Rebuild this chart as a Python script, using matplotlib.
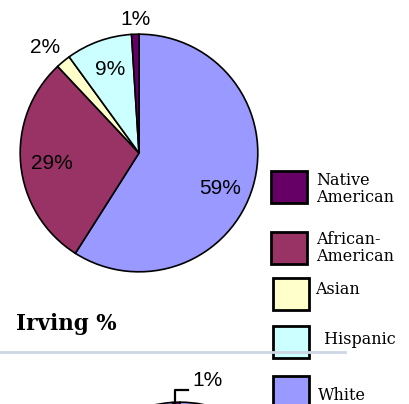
import numpy as np
import matplotlib.pyplot as plt
from matplotlib.patches import Rectangle

# 数据
groups = ['White', 'African-American', 'Asian', 'Hispanic', 'Native American']
pct = [59, 29, 2, 9, 1]
colors = ['#9999FF', '#993366', '#FFFFCC', '#CCFFFF', '#660066']

# 图例顺序
legend_names = ['Native\nAmerican', 'African-\nAmerican', 'Asian', ' Hispanic', 'White']
legend_colors = ['#660066', '#993366', '#FFFFCC', '#CCFFFF', '#9999FF']

# 下方第二张饼图 (只露出顶部)
irving_pct = [1, 99]
irving_colors = ['#660066', '#9999FF']

W, H = 409, 404
fig = plt.figure(figsize=(W / 100, H / 100), dpi=100)


def fx(x):
    return x / W


def fy(y):
    return 1 - y / H


def pie_axes(cx, cy, r):
    return fig.add_axes([fx(cx - r), fy(cy + r), 2 * r / W, 2 * r / H])


# 主饼图
ax = pie_axes(139, 153, 120)
wedges, texts, autotexts = ax.pie(pct, colors=colors, startangle=90, counterclock=False,
                                  autopct=lambda p: f'{round(p)}%',
                                  textprops=dict(family='Liberation Sans', fontsize=15),
                                  wedgeprops=dict(edgecolor='black', linewidth=1.2))
ax.set_xlim(-1.01, 1.01)
ax.set_ylim(-1.01, 1.01)
# 标签位置 (半径单位)
label_pos = [(0.68, -0.30), (-0.73, -0.09), (-0.79, 0.89), (-0.24, 0.70), (-0.03, 1.12)]
for t, p in zip(autotexts, label_pos):
    t.set_position(p)
    t.set_ha('center')
    t.set_va('center')

# 图例
box_y = [171, 232, 278, 326, 376]
box_x = [271, 271, 273, 273, 273]
txt_x = [316, 316, 315, 319, 318]
txt_y = [189, 248, 290, 339, 396]
for bx, by, tx, ty, name, c in zip(box_x, box_y, txt_x, txt_y, legend_names, legend_colors):
    fig.add_artist(Rectangle((fx(bx), fy(by + 32)), 36 / W, 32 / H, transform=fig.transFigure,
                             facecolor=c, edgecolor='black', linewidth=2.0))
    fig.text(fx(tx), fy(ty), name, family='DejaVu Serif', fontsize=11.5,
             ha='left', va='center', linespacing=1.05)

# 标题与分隔线
fig.text(fx(16), fy(324), 'Irving %', family='DejaVu Serif', fontweight='bold',
         fontsize=15.5, ha='left', va='center')
fig.add_artist(plt.Line2D([0, fx(345)], [fy(351.5), fy(351.5)], transform=fig.transFigure,
                          color='#CCD6E4', linewidth=2))

# 第二张饼图
ax2 = pie_axes(180, 521, 120)
w2, _ = ax2.pie(irving_pct, colors=irving_colors, startangle=90, counterclock=True,
                wedgeprops=dict(edgecolor='black', linewidth=1.2))
ax2.set_xlim(-1.01, 1.01)
ax2.set_ylim(-1.01, 1.01)
fig.add_artist(plt.Line2D([fx(175), fx(175), fx(188)], [fy(403), fy(390), fy(390)],
                          transform=fig.transFigure, color='black', linewidth=1.6))
fig.text(fx(208), fy(381), f'{irving_pct[0]}%', family='Liberation Sans', fontsize=15,
         ha='center', va='center')

fig.savefig('out.png', dpi=100)
